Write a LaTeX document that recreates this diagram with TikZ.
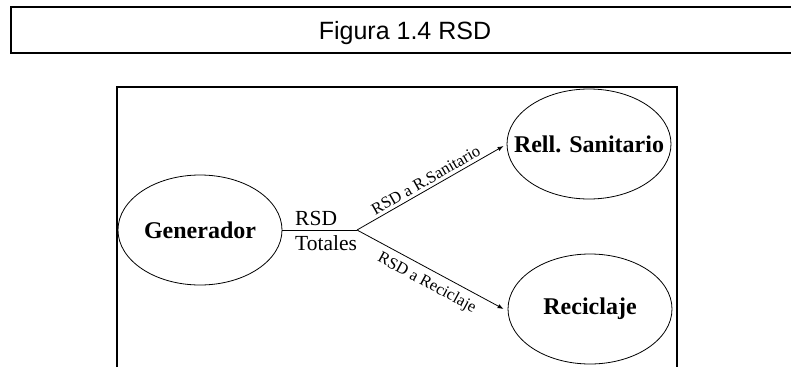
\documentclass[tikz,border=0pt]{standalone}
\usepackage{fontspec}
\setmainfont{Liberation Serif}
\newfontfamily\arialfont{Liberation Sans}
\usetikzlibrary{shapes.geometric,arrows.meta}
\begin{document}
\begin{tikzpicture}[x=1pt,y=-1pt,
  blob/.style={ellipse,draw,line width=0.8pt,minimum width=164pt,minimum height=110pt,inner sep=0pt},
  ntext/.style={inner sep=0pt,font=\bfseries\fontsize{24}{28}\selectfont},
  frame/.style={line width=1.4pt},
  flow/.style={line width=0.8pt,-{Latex[length=6pt,width=4.5pt]}},
  mid/.style={inner sep=0pt,anchor=base west,font=\fontsize{21.5}{24}\selectfont},
  elabel/.style={font=\fontsize{16.5}{18}\selectfont,sloped}]
\useasboundingbox (0,0) rectangle (791,367);
% title box
\draw[frame] (791,7) -- (11,7) -- (11,53) -- (791,53);
\node[font=\arialfont\fontsize{25}{28}\selectfont,anchor=base,inner sep=0pt] (title) at (405,39) {Figura 1.4 RSD};
% frame
\draw[frame] (117,367) -- (117,87) -- (677,87) -- (677,367);
% nodes
\node[blob] (gen) at (200,230) {};
\node[ntext] (gent) at (gen.center) {Generador};
\node[blob] (rell) at (589,144) {};
\node[ntext] (rellt) at (rell.center) {Rell. Sanitario};
\node[blob] (rec) at (590,309) {};
\node[ntext] (rect) at (rec.center) {Reciclaje};
% connectors
\coordinate (J) at (357,230);
\draw[line width=0.8pt] (gen.east) -- (J);
\node[mid] (rsd) at (295,225) {RSD};
\node[mid] (tot) at (295,250) {Totales};
\draw[flow] (J) -- ([xshift=-3pt,yshift=-2pt]rell.west)
  node[elabel,above,pos=0.5,inner sep=3pt] (l1) {RSD a R.Sanitario};
\draw[flow] (J) -- ([xshift=-4pt]rec.west)
  node[elabel,below,pos=0.52,inner sep=6pt] (l2) {RSD a Reciclaje};
\end{tikzpicture}
\end{document}
